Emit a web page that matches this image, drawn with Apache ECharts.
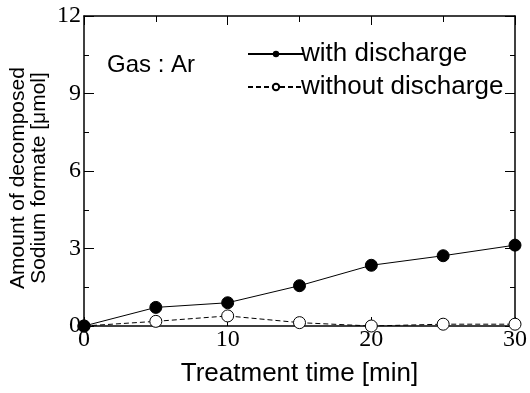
<!DOCTYPE html>
<html>
<head>
<meta charset="utf-8">
<script src="https://cdn.jsdelivr.net/npm/echarts@6/dist/echarts.min.js"></script>
<style>
  html, body { margin: 0; padding: 0; background: #fff; }
  #main { width: 530px; height: 393px; }
</style>
</head>
<body>
<div id="main"></div>
<script>
var times = [0, 5, 10, 15, 20, 25, 30];
var withDischarge = [0, 0.72, 0.9, 1.56, 2.35, 2.72, 3.13];
var withoutDischarge = [0, 0.18, 0.39, 0.13, 0, 0.07, 0.07];
var seriesNames = ['with discharge', 'without discharge'];

function pairs(ys) {
    return times.map(function (t, i) { return [t, ys[i]]; });
}

var chart = echarts.init(document.getElementById('main'));
var serif = '"Liberation Serif", "Times New Roman", serif';
var sans = '"Liberation Sans", Arial, sans-serif';

function frameAxis(extra) {
    var base = {
        type: 'value',
        axisLine: { show: true, onZero: false, lineStyle: { color: '#000', width: 1.5 } },
        axisTick: { inside: true, length: 9, lineStyle: { color: '#000' } },
        minorTick: { show: true, splitNumber: 2, length: 6, lineStyle: { color: '#000' } },
        axisLabel: { show: false },
        splitLine: { show: false }
    };
    return Object.assign(base, extra);
}

var option = {
    animation: false,
    grid: { left: 84, right: 13, top: 16, bottom: 67 },
    legend: {
        orient: 'vertical',
        left: 242,
        top: 36,
        itemWidth: 56,
        itemHeight: 8,
        itemGap: 7,
        textStyle: { fontFamily: sans, fontSize: 26, color: '#000', padding: [0, 0, 0, -8] },
        data: seriesNames
    },
    xAxis: [
        frameAxis({
            min: 0, max: 30, interval: 10,
            axisLabel: { fontFamily: serif, fontSize: 24, color: '#000', margin: 2 },
            name: 'Treatment time [min]',
            nameLocation: 'middle',
            nameGap: 35,
            nameTextStyle: { fontFamily: sans, fontSize: 26, color: '#000' }
        }),
        frameAxis({ min: 0, max: 30, interval: 10, position: 'top' })
    ],
    yAxis: [
        frameAxis({
            min: 0, max: 12, interval: 3,
            axisTick: { inside: true, length: 10, lineStyle: { color: '#000' } },
            minorTick: { show: true, splitNumber: 2, length: 5, lineStyle: { color: '#000' } },
            axisLabel: { fontFamily: serif, fontSize: 24, color: '#000', margin: 3 }
        }),
        frameAxis({
            min: 0, max: 12, interval: 3, position: 'right',
            axisTick: { inside: true, length: 10, lineStyle: { color: '#000' } },
            minorTick: { show: true, splitNumber: 2, length: 5, lineStyle: { color: '#000' } }
        })
    ],
    graphic: [
        {
            type: 'text', left: 107, top: 53,
            style: { text: 'Gas : Ar', font: '24px ' + sans, fill: '#000' }
        },
        {
            type: 'text', x: 29, y: 178, rotation: Math.PI / 2,
            style: {
                text: 'Amount of decomposed\nSodium formate [μmol]',
                font: '21px ' + sans, fill: '#000',
                align: 'center', verticalAlign: 'middle', lineHeight: 21
            }
        }
    ],
    series: [
        {
            name: seriesNames[0], type: 'line',
            data: pairs(withDischarge),
            symbol: 'circle', symbolSize: 12,
            itemStyle: { color: '#000', borderColor: '#000' },
            lineStyle: { color: '#000', width: 1 },
            z: 3
        },
        {
            name: seriesNames[1], type: 'line',
            data: pairs(withoutDischarge),
            symbol: 'circle', symbolSize: 12,
            itemStyle: { color: '#fff', borderColor: '#000', borderWidth: 1 },
            lineStyle: { color: '#000', width: 1, type: [5, 3] },
            z: 2
        }
    ]
};
chart.setOption(option);
</script>
</body>
</html>
